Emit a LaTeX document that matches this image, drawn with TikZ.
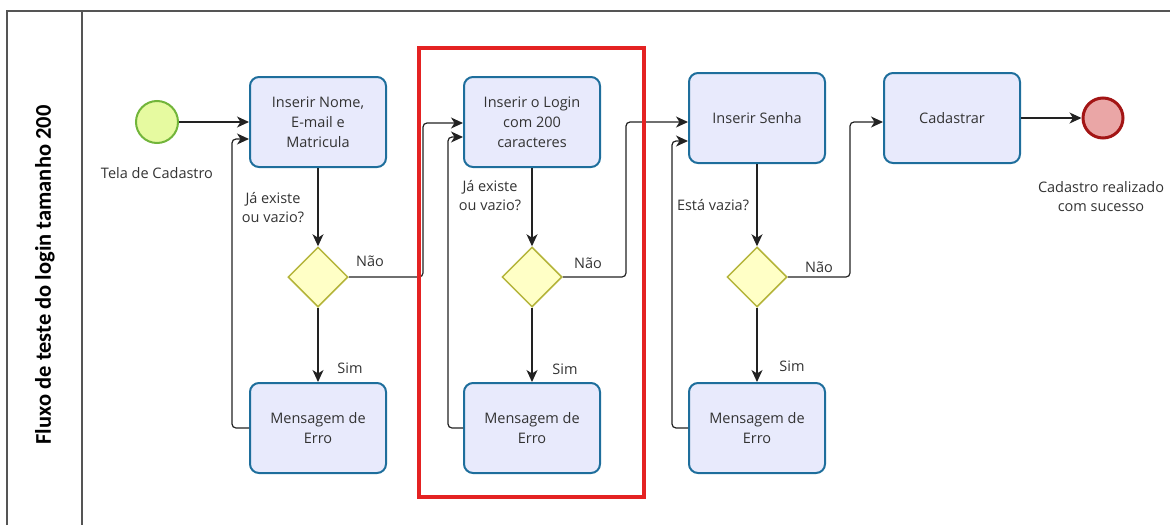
\documentclass[tikz,border=0pt]{standalone}
\usepackage{fontspec}
\setmainfont{Open Sans}
\newfontfamily\titlefont{Carlito}
\usetikzlibrary{arrows.meta,shapes.geometric}

\definecolor{taskfill}{HTML}{E8EAFC}
\definecolor{taskdraw}{HTML}{1E6E9C}
\definecolor{gatefill}{HTML}{FFFFC6}
\definecolor{gatedraw}{HTML}{B4B43A}
\definecolor{startfill}{HTML}{E6FAA0}
\definecolor{startdraw}{HTML}{72B53A}
\definecolor{endfill}{HTML}{EAA6A6}
\definecolor{enddraw}{HTML}{A31515}
\definecolor{txt}{HTML}{333333}
\definecolor{flowcol}{HTML}{222222}
\definecolor{poolcol}{HTML}{555555}
\definecolor{hilitecol}{HTML}{E42222}

\tikzset{
  task/.style={draw=taskdraw, fill=taskfill, line width=2pt, rounded corners=9pt,
    minimum width=136pt, minimum height=90pt, align=center, text=txt,
    font=\fontsize{14.5}{20}\selectfont, inner sep=2pt},
  gate/.style={draw=gatedraw, fill=gatefill, line width=1.5pt, diamond,
    minimum width=60pt, minimum height=60pt, inner sep=0pt},
  startev/.style={circle, draw=startdraw, fill=startfill, line width=2pt,
    minimum size=42pt, inner sep=0pt},
  endev/.style={circle, draw=enddraw, fill=endfill, line width=3pt,
    minimum size=40pt, inner sep=0pt},
  lbl/.style={text=txt, align=center, font=\fontsize{14.5}{19}\selectfont, inner sep=0pt},
  flowline/.style={draw=flowcol, line width=1.2pt, rounded corners=4pt,
    -{Stealth[length=12pt,width=11pt,inset=3.5pt]}},
}

\begin{document}
\begin{tikzpicture}[x=1pt,y=-1pt]
\useasboundingbox (0,0) rectangle (1170,525);

% pool frame and lane header
\draw[poolcol, line width=1.5pt] (7,525) -- (7,11) -- (1170,11);
\draw[poolcol, line width=1.5pt] (82,11) -- (82,525);
\node[rotate=90, font=\titlefont\bfseries\fontsize{22.5}{24}\selectfont] (title) at (45,275)
  {Fluxo de teste do login tamanho 200};

% events
\node[startev] (s) at (157,122) {};
\node[lbl] (slbl) at (157,173) {Tela de Cadastro};
\node[endev] (e) at (1103,118) {};
\node[lbl] (elbl) at (1101,197) {Cadastro realizado\\com sucesso};

% tasks
\node[task] (b1) at (318,122) {Inserir Nome,\\E-mail e\\Matricula};
\node[task] (b2) at (532,122) {Inserir o Login\\com 200\\caracteres};
\node[task] (b3) at (757,118) {Inserir Senha};
\node[task] (b4) at (952,118) {Cadastrar};
\node[task] (m1) at (318,428) {Mensagem de\\Erro};
\node[task] (m2) at (532,428) {Mensagem de\\Erro};
\node[task] (m3) at (757,428) {Mensagem de\\Erro};

% gateways
\node[gate] (d1) at (318,277) {};
\node[gate] (d2) at (532,277) {};
\node[gate] (d3) at (757,277) {};

% labels on flows
\node[lbl] (q1) at (273,208) {Já existe\\ou vazio?};
\node[lbl] (q2) at (490,196) {Já existe\\ou vazio?};
\node[lbl] (q3) at (713,205) {Está vazia?};
\node[lbl] (n1) at (370,261) {Não};
\node[lbl] (n2) at (588,263) {Não};
\node[lbl] (n3) at (819,267) {Não};
\node[lbl] (y1) at (350,368) {Sim};
\node[lbl] (y2) at (565,369) {Sim};
\node[lbl] (y3) at (792,366) {Sim};

% bend points
\coordinate (k1) at (423,123);
\coordinate (k2) at (626,122);
\coordinate (k3) at (850,122);
\coordinate (r1) at (232,139);
\coordinate (r2) at (448,137);
\coordinate (r3) at (672,141);

% sequence flows
\draw[flowline] (s) -- (b1);
\draw[flowline] (b1) -- (d1);
\draw[flowline] (d1) -- (m1);
\draw[flowline] (d1.east) -| (k1) -- (k1 -| b2.west);
\draw[flowline] (m1.west) -| (r1) -- (r1 -| b1.west);

\draw[flowline] (b2) -- (d2);
\draw[flowline] (d2) -- (m2);
\draw[flowline] (d2.east) -| (k2) -- (k2 -| b3.west);
\draw[flowline] (m2.west) -| (r2) -- (r2 -| b2.west);

\draw[flowline] (b3) -- (d3);
\draw[flowline] (d3) -- (m3);
\draw[flowline] (d3.east) -| (k3) -- (k3 -| b4.west);
\draw[flowline] (m3.west) -| (r3) -- (r3 -| b3.west);

\draw[flowline] (b4) -- (e);

% highlighted section
\draw[hilitecol, line width=4.5pt] (419,48) rectangle (644,497);
\end{tikzpicture}
\end{document}
